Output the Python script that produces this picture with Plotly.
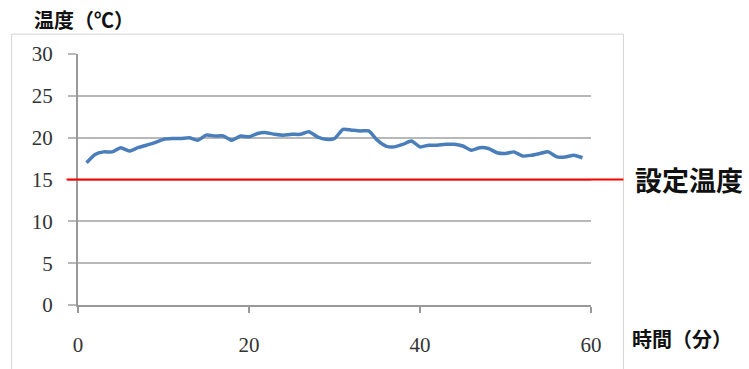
import plotly.graph_objects as go

minutes = list(range(1, 60))
temps = [17.0, 18.0, 18.3, 18.3, 18.8, 18.4, 18.8, 19.1, 19.4, 19.8,
         19.9, 19.9, 20.0, 19.7, 20.3, 20.2, 20.2, 19.7, 20.2, 20.1,
         20.5, 20.6, 20.4, 20.3, 20.4, 20.4, 20.7, 20.1, 19.8, 19.9,
         21.0, 20.9, 20.8, 20.8, 19.7, 19.0, 18.9, 19.2, 19.6, 18.9,
         19.1, 19.1, 19.2, 19.2, 19.0, 18.5, 18.8, 18.7, 18.2, 18.1,
         18.3, 17.8, 17.9, 18.1, 18.3, 17.7, 17.7, 17.9, 17.6]
setpoint = 15
x_ticks = [0, 20, 40, 60]
y_ticks = [0, 5, 10, 15, 20, 25, 30]

W, H = 749, 369
L, R, T, B = 77.5, 591.5, 54, 307

def px(x):
    return (x - L) / (R - L)

def py(y):
    return (B - y) / (B - T)

fig = go.Figure()
fig.add_trace(go.Scatter(x=minutes, y=temps, mode="lines",
                         line=dict(color="#4a7ebb", width=3.5, shape="spline", smoothing=0.6),
                         showlegend=False, hoverinfo="skip"))

# setpoint line
fig.add_shape(type="line", xref="paper", yref="y", x0=px(66), x1=px(624),
              y0=setpoint, y1=setpoint, line=dict(color="#ff0000", width=2), layer="above")
# chart border
fig.add_shape(type="rect", xref="paper", yref="paper", x0=px(11), x1=px(624),
              y0=py(380), y1=py(34), line=dict(color="#d4d4d4", width=1), layer="below")

cjk = "Noto Sans CJK JP"
fig.add_annotation(text="<b>温度（℃）</b>", xref="paper", yref="paper", x=px(31), y=py(19),
                   xanchor="left", yanchor="middle", showarrow=False,
                   font=dict(family=cjk, size=20, color="#111"))
fig.add_annotation(text="<b>時間（分）</b>", xref="paper", yref="paper", x=px(631), y=py(341),
                   xanchor="left", yanchor="middle", showarrow=False,
                   font=dict(family=cjk, size=20, color="#111"))
fig.add_annotation(text="<b>設定温度</b>", xref="paper", yref="paper", x=px(634), y=py(181),
                   xanchor="left", yanchor="middle", showarrow=False,
                   font=dict(family=cjk, size=27, color="#111"))

serif = "Liberation Serif"
fig.update_layout(
    width=W, height=H,
    margin=dict(l=L, r=W - R, t=T, b=H - B, pad=0),
    paper_bgcolor="white", plot_bgcolor="white",
    font=dict(family=serif, size=21, color="#333"),
)
fig.update_xaxes(range=[0, 60], tickvals=x_ticks, showgrid=False, zeroline=False,
                 showline=True, linecolor="#999", linewidth=2,
                 ticks="outside", ticklen=6, tickcolor="#999", tickwidth=2,
                 ticklabelstandoff=14, tickfont=dict(family=serif, size=21, color="#333"))
fig.update_yaxes(range=[0, 30], tickvals=y_ticks, showgrid=True, gridcolor="#b8b8b8", gridwidth=1.5,
                 zeroline=False, showline=True, linecolor="#999", linewidth=2,
                 ticks="outside", ticklen=8, tickcolor="#b8b8b8", tickwidth=1.5,
                 ticklabelstandoff=11, tickfont=dict(family=serif, size=21, color="#333"))

fig.write_html("out.html")
